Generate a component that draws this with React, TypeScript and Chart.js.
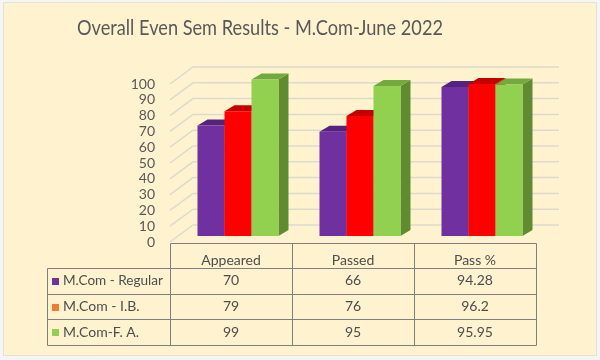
import React, { useEffect, useRef } from 'react';
import { Chart, registerables } from 'chart.js';

Chart.register(...registerables);

// ---- data ----
const titleText = 'Overall Even Sem Results - M.Com-June 2022';
const categories = ['Appeared', 'Passed', 'Pass %'];
const seriesNames = ['M.Com - Regular', 'M.Com - I.B.', 'M.Com-F. A.'];
const regularValues = [70, 66, 94.28];
const ibValues = [79, 76, 96.2];
const faValues = [99, 95, 95.95];
const yMin = 0;
const yMax = 100;
const yStep = 10;

// ---- styles ----
const FONT = 'Lato, "Open Sans", sans-serif';
const frontColors = ['#7030A0', '#FF0000', '#92D050'];
const topColors = ['#55237E', '#C40000', '#74A93F'];
const sideColors = ['#4A1E6E', '#B00000', '#5F8C30'];
const legendColors = ['#7030A0', '#ED7D31', '#92D050'];
const BAR_SHIFT = { x: 7, y: -6 };
const DEPTH = { x: 10, y: -6 };
const WALL = { x: 23, y: -17 };

const threeDPlugin = {
  id: 'threeD',
  beforeDraw(chart: any) {
    const { ctx, width, height } = chart;
    ctx.save();
    ctx.fillStyle = '#F5F5F5';
    ctx.fillRect(0, 0, width, height);
    ctx.fillStyle = '#FEF2CF';
    ctx.fillRect(3, 2, width - 6, height - 6);
    ctx.strokeStyle = '#E6E1D4';
    ctx.lineWidth = 1;
    ctx.strokeRect(3.5, 2.5, width - 7, height - 7);
    ctx.fillStyle = '#595959';
    ctx.font = `22px ${FONT}`;
    ctx.textAlign = 'center';
    ctx.textBaseline = 'alphabetic';
    ctx.fillText(titleText, 260, 35, 366);
    ctx.restore();
  },
  beforeDatasetsDraw(chart: any) {
    const { ctx, chartArea, scales } = chart;
    const y = scales.y;
    ctx.save();
    ctx.strokeStyle = '#DEDACB';
    ctx.lineWidth = 1.5;
    for (const t of y.ticks) {
      const py = y.getPixelForValue(t.value);
      ctx.beginPath();
      ctx.moveTo(chartArea.left, py);
      ctx.lineTo(chartArea.left + WALL.x, py + WALL.y);
      ctx.lineTo(chartArea.right + WALL.x, py + WALL.y);
      ctx.stroke();
    }
    const metas = chart.getSortedVisibleDatasetMetas();
    ctx.translate(BAR_SHIFT.x, BAR_SHIFT.y);
    for (let i = 0; i < categories.length; i++) {
      for (let d = 0; d < metas.length; d++) {
        const el = metas[d].data[i];
        const { x, y: top, base, width } = el.getProps(['x', 'y', 'base', 'width'], true);
        const l = x - width / 2;
        const r = x + width / 2;
        ctx.fillStyle = sideColors[d];
        ctx.beginPath();
        ctx.moveTo(r, top);
        ctx.lineTo(r + DEPTH.x, top + DEPTH.y);
        ctx.lineTo(r + DEPTH.x, base + DEPTH.y);
        ctx.lineTo(r, base);
        ctx.closePath();
        ctx.fill();
        ctx.fillStyle = topColors[d];
        ctx.beginPath();
        ctx.moveTo(l, top);
        ctx.lineTo(l + DEPTH.x, top + DEPTH.y);
        ctx.lineTo(r + DEPTH.x, top + DEPTH.y);
        ctx.lineTo(r, top);
        ctx.closePath();
        ctx.fill();
        el.draw(ctx, chartArea);
      }
    }
    ctx.restore();
    return false;
  },
  afterDraw(chart: any) {
    const { ctx, chartArea, scales } = chart;
    const xs = scales.x;
    const n = categories.length;
    const colW = (xs.right - xs.left) / n;
    const top = Math.round(chartArea.bottom) + 1;
    const headerH = 25;
    const rowH = 25.7;
    const legendLeft = 47;
    const rows = [regularValues, ibValues, faValues];
    const bottom = top + headerH + rowH * rows.length;
    const snap = (v: number) => Math.round(v) + 0.5;
    ctx.save();
    ctx.strokeStyle = '#7F7F7F';
    ctx.lineWidth = 1;
    ctx.beginPath();
    ctx.moveTo(snap(xs.left), snap(top));
    ctx.lineTo(snap(xs.right), snap(top));
    for (let k = 0; k <= rows.length; k++) {
      const yy = snap(top + headerH + k * rowH);
      ctx.moveTo(snap(legendLeft), yy);
      ctx.lineTo(snap(xs.right), yy);
    }
    ctx.moveTo(snap(legendLeft), snap(top + headerH));
    ctx.lineTo(snap(legendLeft), snap(bottom));
    for (let k = 0; k <= n; k++) {
      const xx = snap(xs.getPixelForValue(0) - colW / 2 + k * colW);
      ctx.moveTo(xx, snap(top));
      ctx.lineTo(xx, snap(bottom));
    }
    ctx.stroke();

    ctx.fillStyle = '#4D4D4D';
    ctx.font = `14px ${FONT}`;
    ctx.textAlign = 'center';
    ctx.textBaseline = 'alphabetic';
    for (let i = 0; i < n; i++) {
      const cx = xs.getPixelForValue(i);
      ctx.fillText(categories[i], cx, top + 22);
    }
    ctx.textBaseline = 'middle';
    for (let r = 0; r < rows.length; r++) {
      const cy = top + headerH + r * rowH + rowH / 2;
      for (let i = 0; i < n; i++) {
        ctx.textAlign = 'center';
        ctx.fillText(String(rows[r][i]), xs.getPixelForValue(i), cy);
      }
      ctx.fillStyle = legendColors[r];
      ctx.fillRect(legendLeft + 5, Math.round(cy) - 3, 7, 7);
      ctx.fillStyle = '#4D4D4D';
      ctx.textAlign = 'left';
      ctx.fillText(seriesNames[r], legendLeft + 16, cy, 100);
    }
    ctx.restore();
  },
};

export default function App() {
  const ref = useRef<HTMLCanvasElement>(null);
  useEffect(() => {
    const canvas = ref.current;
    if (!canvas) return;
    const values = [regularValues, ibValues, faValues];
    const chart = new Chart(canvas, {
      type: 'bar',
      data: {
        labels: categories,
        datasets: seriesNames.map((name, d) => ({
          label: name,
          data: values[d],
          backgroundColor: frontColors[d],
          borderWidth: 0,
          categoryPercentage: 0.664,
          barPercentage: 1,
        })),
      },
      options: {
        animation: false,
        responsive: false,
        layout: { padding: { left: 120, right: 64, top: 84, bottom: 118 } },
        plugins: {
          legend: { display: false },
          title: { display: false },
          tooltip: { enabled: false },
        },
        scales: {
          x: { display: false, offset: true, grid: { display: false } },
          y: {
            min: yMin,
            max: yMax,
            ticks: {
              stepSize: yStep,
              autoSkip: false,
              color: '#595959',
              font: { family: FONT, size: 14 },
              padding: 15,
            },
            grid: { display: false, drawTicks: false },
            border: { display: false },
            afterFit(s: any) {
              s.width = 50;
            },
          },
        },
      } as any,
      plugins: [threeDPlugin],
    });
    return () => chart.destroy();
  }, []);
  return (
    <div style={{ position: 'fixed', left: 0, top: 0, width: 600, height: 360 }}>
      <canvas ref={ref} width={600} height={360} style={{ display: 'block', width: 600, height: 360 }} />
    </div>
  );
}
